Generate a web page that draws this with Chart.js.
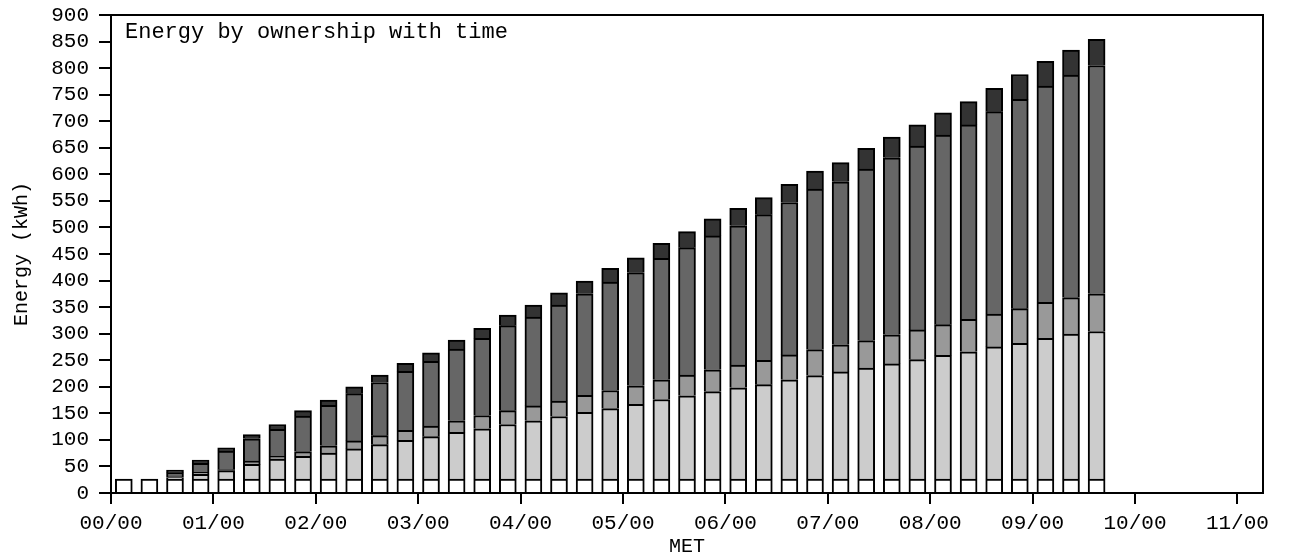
<!DOCTYPE html>
<html>
<head>
<meta charset="utf-8">
<script src="https://cdn.jsdelivr.net/npm/chart.js@4"></script>
<style>
  body { margin: 0; background: #fff; }
  #wrap { width: 1289px; height: 553px; position: relative; }
</style>
</head>
<body>
<div id="wrap"><canvas id="myChart"></canvas></div>
<script>
// start of each 15 minute slot
const slots = ['00:00','00:15','00:30','00:45','01:00','01:15','01:30','01:45',
  '02:00','02:15','02:30','02:45','03:00','03:15','03:30','03:45',
  '04:00','04:15','04:30','04:45','05:00','05:15','05:30','05:45',
  '06:00','06:15','06:30','06:45','07:00','07:15','07:30','07:45',
  '08:00','08:15','08:30','08:45','09:00','09:15','09:30'];

// energy per ownership group (kWh), bottom to top
const groupA = [26,26,26,26,26,26,26,26,26,26,26,26,26,26,26,26,26,26,26,26,
  26,26,26,26,26,26,26,26,26,26,26,26,26,26,26,26,26,26,26];
const groupB = [0,0,3,9,16,28,38,43,49,57,65,73,80,88,95,103,110,118,126,133,
  141,150,157,165,172,178,187,195,202,209,217,225,233,240,249,256,265,273,278];
const groupC = [0,0,3,4,2,6,5,9,14,15,17,19,20,22,25,26,28,29,32,34,
  35,37,39,41,43,46,47,49,51,52,55,56,58,61,62,65,68,69,71];
const groupD = [0,0,6,17,35,42,51,67,76,89,100,111,122,135,145,160,167,181,191,204,
  213,229,240,252,262,274,287,302,307,323,333,346,357,366,381,394,407,419,430];
const groupE = [0,0,5,6,6,8,9,10,10,13,14,15,16,17,19,20,23,23,24,26,
  28,28,30,32,33,32,34,34,36,39,39,40,42,44,44,47,47,47,49];

const xTickHours = [0,1,2,3,4,5,6,7,8,9,10,11];
const xTickLabels = ['00/00','01/00','02/00','03/00','04/00','05/00',
  '06/00','07/00','08/00','09/00','10/00','11/00'];

const fillColors = ['#ffffff', '#cccccc', '#999999', '#666666', '#333333'];
const monoFont = "'Liberation Mono', 'Courier New', monospace";

function slotMid(s) {
  let p = s.split(':');
  return parseInt(p[0]) * 60 + parseInt(p[1]) + 7.5;
}

function toPoints(values) {
  return values.map((v, i) => ({x: slotMid(slots[i]), y: v === 0 ? null : v}));
}

const frame = {
  id: 'frame',
  afterDraw(chart) {
    const {ctx, chartArea: a} = chart;
    ctx.save();
    ctx.strokeStyle = '#000';
    ctx.lineWidth = 2;
    ctx.strokeRect(a.left, a.top, a.right - a.left, a.bottom - a.top);
    ctx.fillStyle = '#000';
    ctx.font = '22px ' + monoFont;
    ctx.textBaseline = 'middle';
    ctx.fillText('Energy by ownership with time', a.left + 14, a.top + 17);
    ctx.restore();
  }
};

const groups = [groupA, groupB, groupC, groupD, groupE];

new Chart(document.getElementById('myChart'), {
  type: 'bar',
  data: {
    datasets: groups.map((g, k) => ({
      data: toPoints(g),
      backgroundColor: fillColors[k],
      borderColor: '#000',
      borderWidth: 2,
      borderSkipped: 'start',
      barThickness: 17
    }))
  },
  options: {
    responsive: true,
    maintainAspectRatio: false,
    animation: false,
    layout: {padding: {top: 15, right: 26, left: 0, bottom: 0}},
    plugins: {legend: {display: false}, tooltip: {enabled: false}},
    scales: {
      x: {
        type: 'linear',
        stacked: true,
        offset: false,
        min: 0,
        max: 675,
        afterBuildTicks: s => { s.ticks = xTickHours.map(h => ({value: h * 60})); },
        afterFit: s => { s.height = 60; },
        grid: {offset: false, drawOnChartArea: false, tickLength: 11, color: '#000', lineWidth: 2},
        border: {color: '#000', width: 2},
        ticks: {
          color: '#000',
          padding: 7,
          maxRotation: 0,
          autoSkip: false,
          font: {family: monoFont, size: 21},
          callback: v => xTickLabels[xTickHours.indexOf(v / 60)]
        },
        title: {
          display: true, text: 'MET', color: '#000',
          font: {family: monoFont, size: 20, lineHeight: 0.6},
          padding: {top: 0, bottom: 0}
        }
      },
      y: {
        stacked: true,
        min: 0,
        max: 900,
        afterFit: s => { s.width = 111; s.paddingTop = 0; s.paddingBottom = 0; },
        grid: {drawOnChartArea: false, tickLength: 12, color: '#000', lineWidth: 2},
        border: {color: '#000', width: 2},
        ticks: {
          stepSize: 50,
          autoSkip: false,
          color: '#000',
          padding: 10,
          font: {family: monoFont, size: 21}
        },
        title: {
          display: true, text: 'Energy (kWh)', color: '#000',
          font: {family: monoFont, size: 20},
          padding: {top: 10, bottom: 0}
        }
      }
    }
  },
  plugins: [frame]
});
</script>
</body>
</html>
